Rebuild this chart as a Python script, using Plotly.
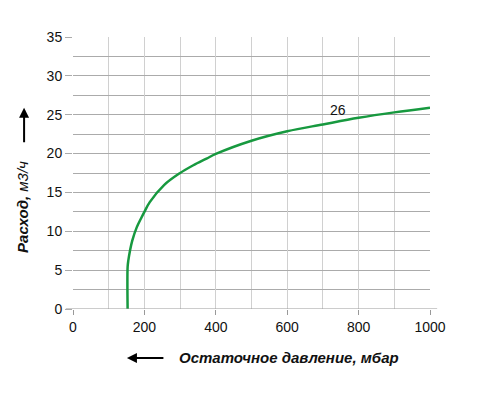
import plotly.graph_objects as go

# Data
pressure = [153, 153, 155, 159.6, 166, 178.5, 191.5, 200, 215, 255, 300, 337, 374, 400, 500, 600, 700, 800, 900, 1000]
flow = [0, 5.4, 6.25, 7.5, 8.8, 10.5, 11.75, 12.5, 13.75, 15.95, 17.5, 18.5, 19.35, 19.95, 21.65, 22.87, 23.75, 24.6, 25.3, 25.9]
curve_label = "26"
label_pos = (741, 25.6)

x_ticks = [0, 200, 400, 600, 800, 1000]
y_ticks = [0, 5, 10, 15, 20, 25, 30, 35]

FONT = "Liberation Sans, Arial, sans-serif"

fig = go.Figure()
fig.add_trace(go.Scatter(
    x=pressure, y=flow, mode="lines",
    line=dict(color="#17993f", width=2.5, shape="spline", smoothing=1.0),
    hoverinfo="skip", showlegend=False,
))

fig.add_annotation(x=label_pos[0], y=label_pos[1], text=curve_label, showarrow=False,
                   xanchor="center", yanchor="middle",
                   font=dict(family=FONT, size=14, color="#111"))

# axis titles
fig.add_annotation(xref="paper", yref="paper", x=0.291, y=-0.180,
                   text="<b><i>Остаточное давление, мбар</i></b>", showarrow=False,
                   xanchor="left", yanchor="middle",
                   font=dict(family=FONT, size=15, color="#111"))
fig.add_annotation(xref="paper", yref="paper", x=0.151, y=-0.180, ax=38, ay=0,
                   text="", showarrow=True, arrowhead=2, arrowsize=1, arrowwidth=2,
                   arrowcolor="#000")
fig.add_annotation(xref="paper", yref="paper", x=-0.143, y=0.375,
                   text="<b><i>Расход,</i></b> <i>м3/ч</i>", showarrow=False, textangle=-90,
                   xanchor="center", yanchor="middle",
                   font=dict(family=FONT, size=15, color="#111"))
fig.add_annotation(xref="paper", yref="paper", x=-0.137, y=0.74, ax=0, ay=36,
                   text="", showarrow=True, arrowhead=2, arrowsize=1, arrowwidth=2,
                   arrowcolor="#000")

# x axis baseline extending slightly beyond plot
fig.add_shape(type="line", xref="paper", yref="y", x0=-0.02, x1=1.02, y0=0, y1=0,
              line=dict(color="#999", width=1.2), layer="above")

fig.update_layout(
    width=482, height=395,
    margin=dict(l=65, r=60, t=29, b=94),
    paper_bgcolor="white", plot_bgcolor="white",
    font=dict(family=FONT, size=14, color="#111"),
    xaxis=dict(range=[0, 1000], tickvals=x_ticks, showgrid=True, gridcolor="#d0d0d0",
               gridwidth=1.2, zeroline=False, showline=False,
               ticks="outside", ticklen=5, tickcolor="#999", tickwidth=1,
               minor=dict(dtick=100, tick0=0, showgrid=True, gridcolor="#d0d0d0", gridwidth=1.2,
                          ticks=""),
               tickfont=dict(family=FONT, size=14, color="#111")),
    yaxis=dict(range=[0, 35], tickvals=y_ticks, showgrid=True, gridcolor="#ababab",
               gridwidth=1, zeroline=False, showline=False,
               ticks="outside", ticklen=7, tickcolor="#ababab", tickwidth=1,
               minor=dict(dtick=2.5, tick0=0, showgrid=True, gridcolor="#ababab", gridwidth=1,
                          ticks=""),
               tickfont=dict(family=FONT, size=14, color="#111")),
)

fig.write_html("out.html")
